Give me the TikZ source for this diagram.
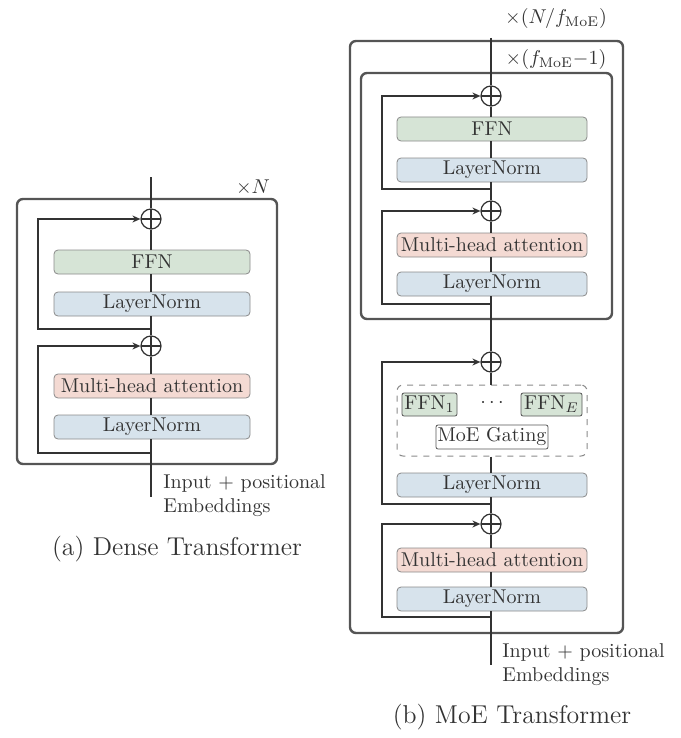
\documentclass[tikz,border=0pt]{standalone}
\usetikzlibrary{arrows.meta,calc}
\definecolor{txt}{HTML}{333333}
\definecolor{ffncol}{HTML}{D6E4D6}
\definecolor{lncol}{HTML}{D7E3EC}
\definecolor{mhacol}{HTML}{F4DAD3}
\definecolor{bordcol}{HTML}{8A8A8A}
\definecolor{framecol}{HTML}{555555}
\tikzset{
  blk/.style={draw=bordcol, line width=0.4pt, rounded corners=2pt, minimum width=98pt, minimum height=12pt, inner sep=0pt, text=txt, font=\normalsize},
  ffnbox/.style={blk, fill=ffncol},
  lnbox/.style={blk, fill=lncol},
  mhabox/.style={blk, fill=mhacol},
  addnode/.style={draw=txt, line width=0.6pt, circle, minimum size=10pt, inner sep=0pt,
    path picture={\draw[txt, line width=0.6pt] (path picture bounding box.north) -- (path picture bounding box.south) (path picture bounding box.west) -- (path picture bounding box.east);}},
  mainline/.style={draw=txt, line width=0.7pt},
  resline/.style={draw=txt, line width=0.7pt, -{Stealth[length=4pt,width=3.5pt]}},
  frame/.style={draw=framecol, line width=1.2pt, rounded corners=3pt},
  lbl/.style={text=txt, font=\normalsize, inner sep=0pt},
  caption/.style={text=txt, inner sep=0pt, font=\fontsize{12.9}{15}\selectfont},
}
\begin{document}
\begin{tikzpicture}[x=0.5pt, y=-0.5pt]
\useasboundingbox (0,0) rectangle (680,738);

% ---------- (a) Dense Transformer ----------
\draw[frame] (17,199) rectangle (277,464);
\node[lbl] (xN) at (253,187) {$\times N$};
\coordinate (topL) at (151,177);
\node[addnode] (addA) at (151,219) {};
\node[ffnbox] (ffnA) at (152,262) {FFN};
\node[lnbox] (lnA1) at (152,304) {LayerNorm};
\coordinate (resA1) at (151,329);
\node[addnode] (addB) at (151,346) {};
\node[mhabox] (mhaA) at (152,386) {Multi-head attention};
\node[lnbox] (lnA2) at (152,427) {LayerNorm};
\coordinate (resA2) at (151,453);
\coordinate (inA) at (151,497);

\draw[mainline] (topL) -- (addA);
\draw[mainline] (addA) -- (addA |- ffnA.north);
\draw[mainline] (addA |- ffnA.south) -- (addA |- lnA1.north);
\draw[mainline] (addA |- lnA1.south) -- (addB);
\draw[mainline] (addB) -- (addB |- mhaA.north);
\draw[mainline] (addB |- mhaA.south) -- (addB |- lnA2.north);
\draw[mainline] (addB |- lnA2.south) -- (inA);
\draw[resline] (resA1) -- ++(-113,0) |- (addA.west);
\draw[resline] (resA2) -- ++(-113,0) |- (addB.west);

\node[lbl, align=left, anchor=north west] (inTxtA) at (163,474) {Input + positional\\Embeddings};
\node[caption] (capA) at (177,549) {(a) Dense Transformer};

% ---------- (b) MoE Transformer ----------
\draw[frame] (350,41) rectangle (623,633);
\draw[frame] (361,73) rectangle (612,319);
\node[lbl] (xNf) at (556,19) {$\times(N/f_{\mathrm{MoE}})$};
\node[lbl] (xf) at (556,60) {$\times(f_{\mathrm{MoE}}{-}1)$};

\coordinate (topR) at (491,38);
\node[addnode] (addR1) at (491,96) {};
\node[ffnbox, minimum width=95pt] (ffnR) at (492,129) {FFN};
\node[lnbox, minimum width=95pt] (lnR1) at (492,170) {LayerNorm};
\coordinate (resR1) at (491,189);
\node[addnode] (addR2) at (491,211) {};
\node[mhabox, minimum width=95pt] (mhaR1) at (492,245) {Multi-head attention};
\node[lnbox, minimum width=95pt] (lnR2) at (492,284) {LayerNorm};
\coordinate (resR2) at (491,304);
\node[addnode] (addR3) at (491,362) {};
\node[draw=bordcol, dashed, line width=0.5pt, rounded corners=3pt, minimum width=95pt, minimum height=35.5pt, inner sep=0pt] (moe) at (492,420.5) {};
\node[blk, fill=ffncol, draw=framecol, minimum width=27.5pt, minimum height=11.5pt, rounded corners=1pt] (ffn1) at (429.5,404.5) {FFN$_1$};
\node[lbl] (dots) at (492,403) {$\cdots$};
\node[blk, fill=ffncol, draw=framecol, minimum width=30.5pt, minimum height=11.5pt, rounded corners=1pt] (ffnE) at (551.5,404.5) {FFN$_E$};
\node[blk, fill=white, draw=framecol, minimum width=56pt, minimum height=12pt, rounded corners=1pt] (gate) at (492,437) {MoE Gating};
\node[lnbox, minimum width=95pt] (lnR3) at (492,485) {LayerNorm};
\coordinate (resR3) at (491,504);
\node[addnode] (addR4) at (491,524) {};
\node[mhabox, minimum width=95pt] (mhaR2) at (492,560) {Multi-head attention};
\node[lnbox, minimum width=95pt] (lnR4) at (492,599) {LayerNorm};
\coordinate (resR4) at (491,617);
\coordinate (inR) at (491,665);

\draw[mainline] (topR) -- (addR1);
\draw[mainline] (addR1) -- (addR1 |- ffnR.north);
\draw[mainline] (addR1 |- ffnR.south) -- (addR1 |- lnR1.north);
\draw[mainline] (addR1 |- lnR1.south) -- (addR2);
\draw[mainline] (addR2) -- (addR2 |- mhaR1.north);
\draw[mainline] (addR2 |- mhaR1.south) -- (addR2 |- lnR2.north);
\draw[mainline] (addR2 |- lnR2.south) -- (addR3);
\draw[mainline] (addR3) -- (addR3 |- moe.north);
\draw[mainline] (addR3 |- moe.south) -- (addR3 |- lnR3.north);
\draw[mainline] (addR3 |- lnR3.south) -- (addR4);
\draw[mainline] (addR4) -- (addR4 |- mhaR2.north);
\draw[mainline] (addR4 |- mhaR2.south) -- (addR4 |- lnR4.north);
\draw[mainline] (addR4 |- lnR4.south) -- (inR);
\draw[resline] (resR1) -- ++(-109,0) |- (addR1.west);
\draw[resline] (resR2) -- ++(-109,0) |- (addR2.west);
\draw[resline] (resR3) -- ++(-109,0) |- (addR3.west);
\draw[resline] (resR4) -- ++(-109,0) |- (addR4.west);

\node[lbl, align=left, anchor=north west] (inTxtB) at (502,643) {Input + positional\\Embeddings};
\node[caption] (capB) at (512,717) {(b) MoE Transformer};
\end{tikzpicture}
\end{document}
